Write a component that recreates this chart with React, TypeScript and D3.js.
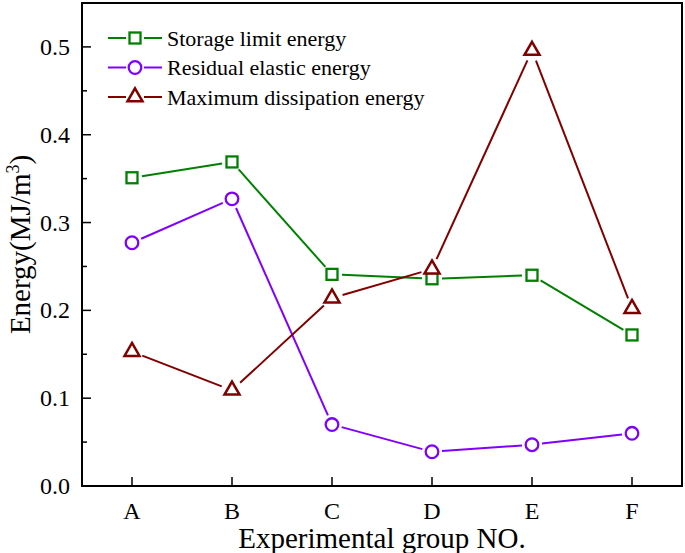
import React from "react";
import * as d3 from "d3";

const categories = ["A", "B", "C", "D", "E", "F"];
const storageLimit = [0.351, 0.369, 0.241, 0.236, 0.240, 0.172];
const residualElastic = [0.277, 0.327, 0.070, 0.039, 0.047, 0.060];
const maxDissipation = [0.153, 0.109, 0.214, 0.247, 0.496, 0.202];
const yTicks = [0.0, 0.1, 0.2, 0.3, 0.4, 0.5];
const yMinorTicks = [0.05, 0.15, 0.25, 0.35, 0.45];

const W = 685, H = 553;
const left = 82, right = 682, top = 3, bottom = 486;
const FONT = "Liberation Serif, Times New Roman, serif";

type SeriesDef = { name: string; values: number[]; color: string; marker: "square" | "circle" | "triangle"; gap: number };
const series: SeriesDef[] = [
  { name: "Storage limit energy", values: storageLimit, color: "#008000", marker: "square", gap: 10 },
  { name: "Residual elastic energy", values: residualElastic, color: "#8000ff", marker: "circle", gap: 10 },
  { name: "Maximum dissipation energy", values: maxDissipation, color: "#800000", marker: "triangle", gap: 11 },
];

function Marker({ type, x, y, color }: { type: string; x: number; y: number; color: string }) {
  if (type === "square") {
    return <rect x={x - 5.5} y={y - 5.5} width={11} height={11} fill="white" stroke={color} strokeWidth={2.3} />;
  }
  if (type === "circle") {
    return <circle cx={x} cy={y} r={6.3} fill="white" stroke={color} strokeWidth={2.3} />;
  }
  const s = 15;
  const h = s * Math.sqrt(3) / 2;
  const pts = [[x, y - h * 2 / 3], [x + s / 2, y + h / 3], [x - s / 2, y + h / 3]];
  return <polygon points={pts.map(p => p.join(",")).join(" ")} fill="white" stroke={color} strokeWidth={2.5} strokeLinejoin="miter" />;
}

export default function App() {
  const x = d3.scalePoint<string>().domain(categories).range([left, right]).padding(0.5);
  const y = d3.scaleLinear().domain([0, 0.55]).range([bottom, top]);

  const segments = (s: SeriesDef) => {
    const out: JSX.Element[] = [];
    for (let i = 0; i < s.values.length - 1; i++) {
      const x1 = x(categories[i])!, y1 = y(s.values[i]);
      const x2 = x(categories[i + 1])!, y2 = y(s.values[i + 1]);
      const dx = x2 - x1, dy = y2 - y1;
      const len = Math.sqrt(dx * dx + dy * dy);
      const ux = dx / len, uy = dy / len;
      out.push(
        <line key={i} x1={x1 + ux * s.gap} y1={y1 + uy * s.gap} x2={x2 - ux * s.gap} y2={y2 - uy * s.gap}
          stroke={s.color} strokeWidth={2} />
      );
    }
    return out;
  };

  const tStyle = { fontFamily: FONT };

  return (
    <svg width={W} height={H} style={{ position: "absolute", left: 0, top: 0, background: "white" }}>
      <rect x={left} y={top} width={right - left} height={bottom - top} fill="none" stroke="black" strokeWidth={2} />
      {yTicks.map(t => (
        <g key={t}>
          <line x1={left} x2={left + 9} y1={y(t)} y2={y(t)} stroke="black" strokeWidth={1.5} />
          <text x={70} y={y(t) + 8} textAnchor="end" fontSize={24} style={tStyle}>{t.toFixed(1)}</text>
        </g>
      ))}
      {yMinorTicks.map(t => (
        <line key={t} x1={left} x2={left + 5} y1={y(t)} y2={y(t)} stroke="black" strokeWidth={1.5} />
      ))}
      {categories.map(c => (
        <g key={c}>
          <line x1={x(c)!} x2={x(c)!} y1={bottom} y2={bottom - 9} stroke="black" strokeWidth={1.5} />
          <text x={x(c)!} y={519} textAnchor="middle" fontSize={24} style={tStyle}>{c}</text>
        </g>
      ))}
      <text x={(left + right) / 2} y={548} textAnchor="middle" fontSize={29} style={tStyle}>Experimental group NO.</text>
      <text transform={`translate(30, ${(top + bottom) / 2}) rotate(-90)`} textAnchor="middle" fontSize={29} style={tStyle}>
        Energy(MJ/m<tspan dy={-11} fontSize={18}>3</tspan><tspan dy={11}>)</tspan>
      </text>
      {series.map(s => (
        <g key={s.name}>
          {segments(s)}
          {s.values.map((v, i) => (
            <Marker key={i} type={s.marker} x={x(categories[i])!} y={y(v)} color={s.color} />
          ))}
        </g>
      ))}
      {series.map((s, i) => {
        const ly = 38 + i * 29.5;
        return (
          <g key={s.name}>
            <line x1={108} x2={126} y1={ly} y2={ly} stroke={s.color} strokeWidth={2} />
            <line x1={144} x2={162} y1={ly} y2={ly} stroke={s.color} strokeWidth={2} />
            <Marker type={s.marker} x={135} y={ly} color={s.color} />
            <text x={167} y={ly + 7.5} fontSize={22} style={tStyle}>{s.name}</text>
          </g>
        );
      })}
    </svg>
  );
}
